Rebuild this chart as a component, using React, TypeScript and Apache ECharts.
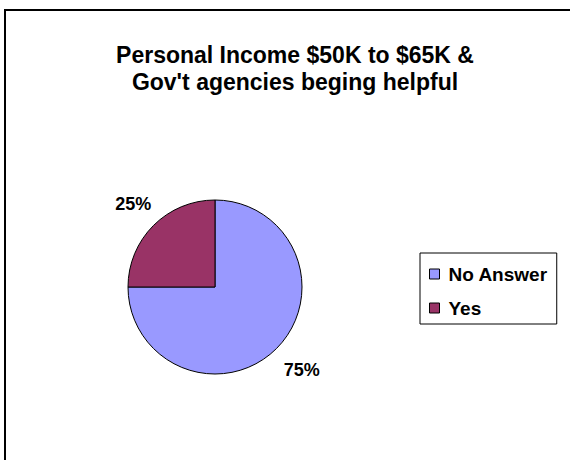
import React, { useEffect, useRef } from "react";
import * as echarts from "echarts";

const titleLines = ["Personal Income $50K to $65K &", "Gov't agencies beging helpful"];
const categories = ["No Answer", "Yes"];
const values = [75, 25];
const colors = ["#9999FF", "#993366"];

const FONT = "'Liberation Sans', Arial, sans-serif";

export default function App() {
  const ref = useRef<HTMLDivElement>(null);
  useEffect(() => {
    if (!ref.current) return;
    const chart = echarts.init(ref.current, null, { renderer: "svg" });
    chart.setOption({
      animation: false,
      backgroundColor: "#ffffff",
      title: titleLines.map((line, i) => ({
        text: line,
        left: 290,
        top: 36 + i * 27,
        textAlign: "center",
        textStyle: {
          fontFamily: FONT,
          fontSize: 23,
          fontWeight: "bold",
          color: "#000",
          lineHeight: 27,
        },
      })),
      graphic: [
        {
          type: "rect",
          shape: { x: 5, y: 10, width: 600, height: 500 },
          style: { fill: "none", stroke: "#000", lineWidth: 2 },
          silent: true,
        },
      ],
      legend: {
        orient: "vertical",
        left: 420,
        top: 253,
        data: categories,
        icon: "rect",
        itemWidth: 10,
        itemHeight: 10,
        itemGap: 14,
        padding: [11, 9, 6, 9],
        borderColor: "#000",
        borderWidth: 1,
        itemStyle: { borderColor: "#000", borderWidth: 1 },
        textStyle: {
          fontFamily: FONT,
          fontSize: 19,
          fontWeight: "bold",
          color: "#000",
          lineHeight: 20,
          padding: [0, 0, 0, 4],
        },
      },
      series: [
        {
          type: "pie",
          center: [215, 287],
          radius: 87,
          startAngle: 90,
          clockwise: true,
          avoidLabelOverlap: false,
          itemStyle: { borderColor: "#000", borderWidth: 1 },
          label: {
            show: true,
            position: "outside",
            formatter: "{d}%",
            fontFamily: FONT,
            fontSize: 18,
            fontWeight: "bold",
            color: "#000",
            distanceToLabelLine: -19,
            padding: [8, 0, 0, 5],
          },
          labelLine: { show: false, length: 30, length2: 0 },
          emphasis: { disabled: true },
          data: categories.map((name, i) => ({
            name,
            value: values[i],
            itemStyle: { color: colors[i] },
          })),
        },
      ],
    });
    return () => chart.dispose();
  }, []);
  return (
    <div
      ref={ref}
      style={{ position: "absolute", left: 0, top: 0, width: 570, height: 460 }}
    />
  );
}
